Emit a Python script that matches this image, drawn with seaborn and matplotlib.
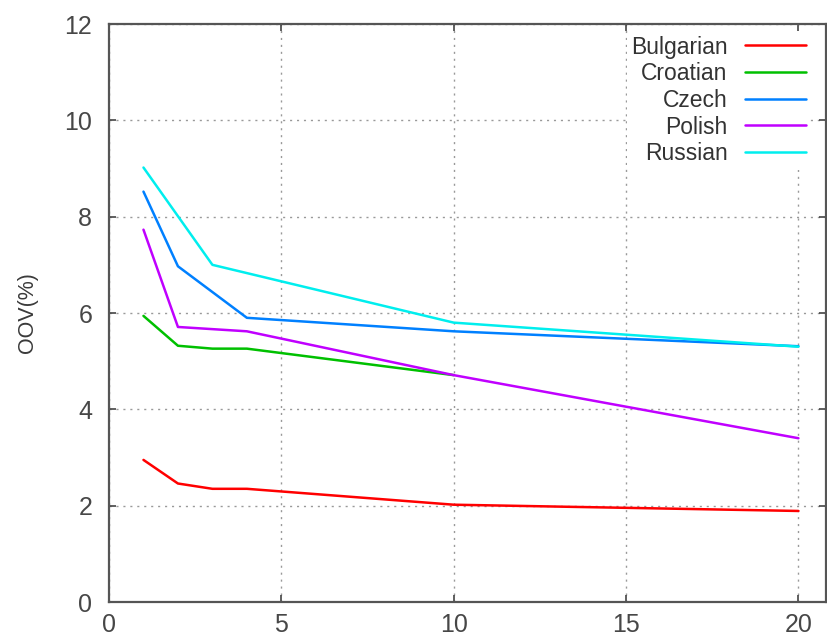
import matplotlib
matplotlib.use("Agg")
import matplotlib.pyplot as plt
import seaborn as sns
import pandas as pd

languages = ["Bulgarian", "Croatian", "Czech", "Polish", "Russian"]
colors = ["#ff0000", "#00c000", "#0080ff", "#c000ff", "#00eeee"]

bulgarian_x = [1, 2, 3, 4, 10, 20]
bulgarian_y = [2.95, 2.46, 2.35, 2.35, 2.02, 1.89]
croatian_x = [1, 2, 3, 4, 10]
croatian_y = [5.94, 5.32, 5.26, 5.26, 4.71]
czech_x = [1, 2, 4, 10, 20]
czech_y = [8.52, 6.97, 5.90, 5.62, 5.31]
polish_x = [1, 2, 4, 10, 20]
polish_y = [7.73, 5.71, 5.62, 4.71, 3.40]
russian_x = [1, 3, 10, 20]
russian_y = [9.02, 7.00, 5.80, 5.30]

xticks = [0, 5, 10, 15, 20]
yticks = [0, 2, 4, 6, 8, 10, 12]

series = [(bulgarian_x, bulgarian_y), (croatian_x, croatian_y), (czech_x, czech_y),
          (polish_x, polish_y), (russian_x, russian_y)]
rows = []
for lang, (xs, ys) in zip(languages, series):
    for x, y in zip(xs, ys):
        rows.append({"x": x, "OOV": y, "lang": lang})
df = pd.DataFrame(rows)

sns.set_style("white")
plt.rcParams["font.family"] = ["Liberation Sans", "DejaVu Sans"]

W, H = 827, 639
left, right, top, bottom = 109, 826, 24, 602
fig = plt.figure(figsize=(W / 100, H / 100), dpi=100)
ax = fig.add_axes([left / W, 1 - bottom / H, (right - left) / W, (bottom - top) / H])

sns.lineplot(data=df, x="x", y="OOV", hue="lang", hue_order=languages,
             palette=dict(zip(languages, colors)), linewidth=1.8, ax=ax,
             estimator=None, sort=True)

ax.set_xlim(0, 20.8)
ax.set_ylim(0, 12)
ax.set_xticks(xticks)
ax.set_yticks(yticks)
ax.set_xlabel("")
ax.set_ylabel("OOV(%)", fontsize=15.5, color="#3a3a3a", labelpad=19)
ax.tick_params(direction="in", length=5, width=1.2, color="#444444",
               labelsize=18, labelcolor="#474747", top=True, right=True,
               left=True, bottom=True)
ax.tick_params(axis="y", pad=12)
ax.tick_params(axis="x", pad=8)
for s in ax.spines.values():
    s.set_color("#555555")
    s.set_linewidth(1.6)
ax.grid(True, linestyle=(0, (1.5, 3.5)), color="#999999", linewidth=1.0)

leg = ax.legend(loc="upper right", markerfirst=False, frameon=True, fontsize=16.5,
                handlelength=2.65, handletextpad=0.75, labelspacing=0.16,
                borderaxespad=0.0, borderpad=0.2, bbox_to_anchor=(0.978, 0.988))
frame = leg.get_frame()
frame.set_facecolor("white")
frame.set_edgecolor("none")
frame.set_alpha(1)
for t in leg.get_texts():
    t.set_ha("right")
    t.set_color("#333333")
leg.set_title(None)

fig.savefig("out.png", dpi=100)
